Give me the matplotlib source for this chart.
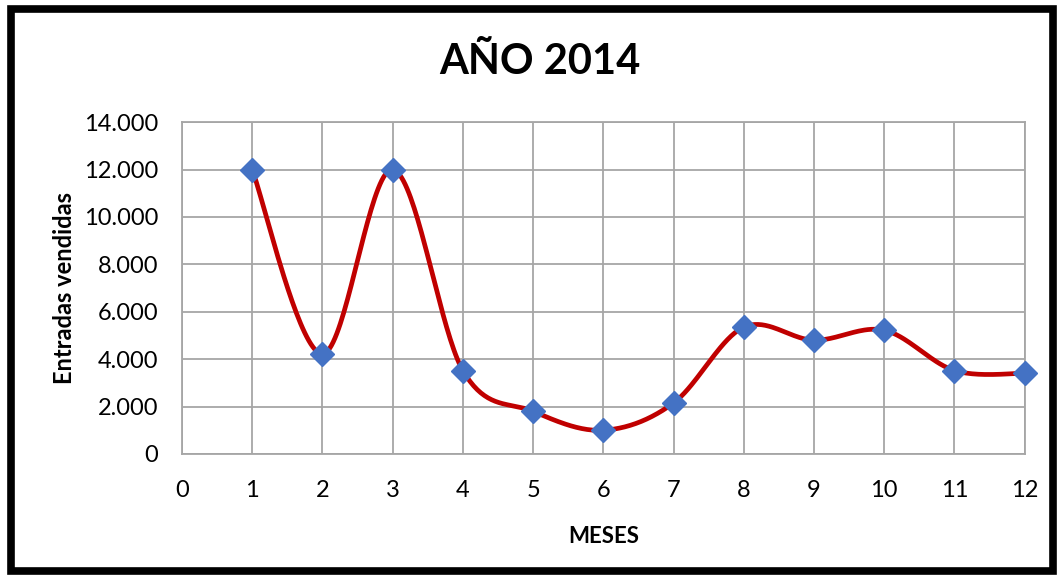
import numpy as np
import matplotlib.pyplot as plt
from matplotlib.patches import Rectangle
from matplotlib.ticker import FuncFormatter

plt.rcParams['font.family'] = ['Lato', 'DejaVu Sans']

meses = [1, 2, 3, 4, 5, 6, 7, 8, 9, 10, 11, 12]
entradas = [12000, 4220, 12000, 3520, 1800, 1000, 2150, 5350, 4800, 5220, 3520, 3400]


def smooth_line(x, y, n=40):
    # bezier curve through the points, like the excel "smoothed line" option
    x = np.asarray(x, float)
    y = np.asarray(y, float)
    px = np.concatenate([[x[0]], x, [x[-1]]])
    py = np.concatenate([[y[0]], y, [y[-1]]])
    xs, ys = [], []
    t = np.linspace(0, 1, n)
    for i in range(1, len(px) - 2):
        p0x, p1x, p2x, p3x = px[i], px[i] + (px[i + 1] - px[i - 1]) / 6, px[i + 1] - (px[i + 2] - px[i]) / 6, px[i + 1]
        p0y, p1y, p2y, p3y = py[i], py[i] + (py[i + 1] - py[i - 1]) / 6, py[i + 1] - (py[i + 2] - py[i]) / 6, py[i + 1]
        bx = (1 - t) ** 3 * p0x + 3 * (1 - t) ** 2 * t * p1x + 3 * (1 - t) * t ** 2 * p2x + t ** 3 * p3x
        by = (1 - t) ** 3 * p0y + 3 * (1 - t) ** 2 * t * p1y + 3 * (1 - t) * t ** 2 * p2y + t ** 3 * p3y
        xs.extend(bx)
        ys.extend(by)
    return np.array(xs), np.array(ys)


fig = plt.figure(figsize=(10.64, 5.79), dpi=100)
ax = fig.add_axes([0.171, 0.216, 0.792, 0.573])

sx, sy = smooth_line(meses, entradas)
ax.plot(sx, sy, color='#C00000', lw=3.4, zorder=3, solid_capstyle='round')
ax.plot(meses, entradas, linestyle='none', marker='D', markersize=12.5,
        color='#4472C4', zorder=4, clip_on=False)

ax.set_xlim(0, 12)
ax.set_ylim(0, 14000)
ax.set_xticks(range(0, 13))
ax.set_yticks(range(0, 14001, 2000))
ax.yaxis.set_major_formatter(FuncFormatter(lambda v, p: f'{int(v):,}'.replace(',', '.')))
ax.grid(True, color='#A6A6A6', lw=1.3)
ax.set_axisbelow(True)
for s in ax.spines.values():
    s.set_color('#A6A6A6')
    s.set_linewidth(1.3)
ax.tick_params(length=0, labelsize=17)
ax.tick_params(axis='x', pad=19)
ax.tick_params(axis='y', pad=17)

ax.set_xlabel('MESES', fontsize=16, fontweight='bold', labelpad=18)
ax.set_ylabel('Entradas vendidas', fontsize=17, fontweight='bold', labelpad=6)
fig.text(0.507, 0.893, 'AÑO 2014', ha='center', va='center', fontsize=30, fontweight='bold')

fig.patches.append(Rectangle((0.010, 0.013), 0.980, 0.972, transform=fig.transFigure,
                             fill=False, edgecolor='black', lw=5.5))

fig.savefig('out.png', dpi=100)
